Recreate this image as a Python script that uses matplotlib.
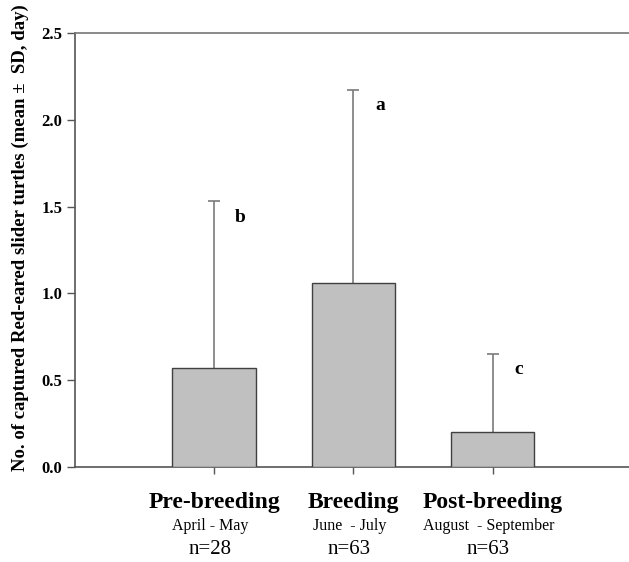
import numpy as np
import matplotlib
matplotlib.use("Agg")
from matplotlib import pyplot as plt
from matplotlib import transforms

plt.rcParams['font.family'] = ['Liberation Serif', 'DejaVu Serif']

# data
periods = ['Pre-breeding', 'Breeding', 'Post-breeding']
months = ['April - May', 'June  - July', 'August  - September']
n_labels = ['n=28', 'n=63', 'n=63']
means = [0.57, 1.06, 0.20]
sds = [0.96, 1.11, 0.45]
letters = ['b', 'a', 'c']
yticks = [0.0, 0.5, 1.0, 1.5, 2.0, 2.5]

fig = plt.figure(figsize=(6.29, 5.62), dpi=100)
ax = fig.add_axes([75 / 629, 95 / 562, 1 - 75 / 629, 434 / 562])

x = np.arange(len(periods))
m = np.array(means)
tops = m + np.array(sds)
ax.bar(x, m, width=0.6, color='#c0c0c0', edgecolor='#404040', linewidth=1.0, zorder=3)
# upper-only error bars
ax.vlines(x, m, tops, color='#7a7a7a', linewidth=1.2, zorder=2)
ax.hlines(tops, x - 0.043, x + 0.043, color='#7a7a7a', linewidth=1.2, zorder=2)

# significance letters
for xi, t, lt in zip(x, tops, letters):
    ax.text(xi + 0.19, t - 0.09, lt, ha='center', va='center',
            fontsize=14, fontweight='bold')

ax.set_xlim(-1.0, 2.98)
ax.set_ylim(0, 2.5)
ax.set_yticks(yticks)
ax.set_yticklabels(['%.1f' % v for v in yticks], fontsize=12, fontweight='bold')
ax.set_xticks(x)
ax.set_xticklabels([])

ax.tick_params(axis='y', direction='out', length=6, width=1.0, color='#555555', pad=3)
ax.tick_params(axis='x', direction='out', length=5, width=1.0, color='#555555')
for side in ['left', 'bottom', 'top']:
    ax.spines[side].set_color('#555555')
    ax.spines[side].set_linewidth(1.2)
ax.spines['top'].set_color('#777777')
ax.spines['right'].set_visible(False)

# category labels under the axis
trans = transforms.blended_transform_factory(ax.transData, ax.transAxes)
for xi, p, mo, nl in zip(x, periods, months, n_labels):
    ax.text(xi, -0.081, p, transform=trans, ha='center', va='center',
            fontsize=17, fontweight='bold')
    ax.text(xi - 0.03, -0.136, mo, transform=trans, ha='center', va='center', fontsize=11.5)
    ax.text(xi - 0.03, -0.189, nl, transform=trans, ha='center', va='center', fontsize=15)

fig.text(20 / 629, 1 - 238 / 562, 'No. of captured Red-eared slider turtles (mean \u00b1  SD, day)',
         rotation=90, ha='center', va='center', fontsize=13.5, fontweight='bold')

fig.savefig('out.png', dpi=100)
